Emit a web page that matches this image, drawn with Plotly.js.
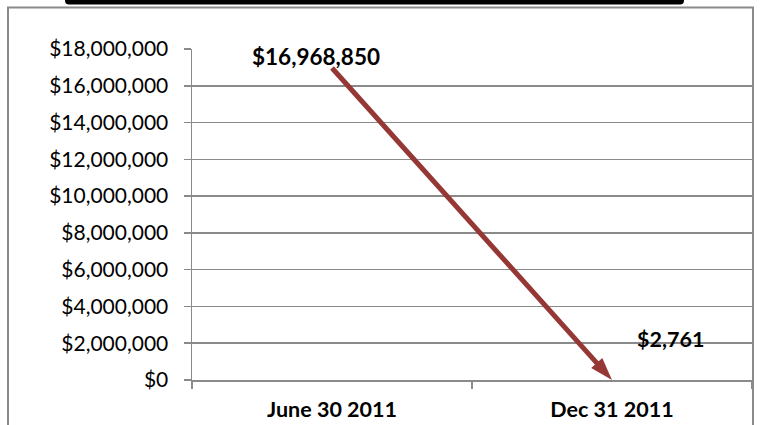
<!DOCTYPE html>
<html>
<head>
<meta charset="utf-8">
<script src="https://cdn.plot.ly/plotly-3.0.1.min.js"></script>
<style>
  html, body { margin: 0; padding: 0; background: #fff; }
  #chart { width: 760px; height: 425px; }
</style>
</head>
<body>
<div id="chart"></div>
<script>
// ---- data ----
const categories = ["June 30 2011", "Dec 31 2011"];
const values = [16968850, 2761];
const valueLabels = ["$16,968,850", "$2,761"];
const yTickVals = [0, 2000000, 4000000, 6000000, 8000000, 10000000, 12000000, 14000000, 16000000, 18000000];
const yTickText = ["$0", "$2,000,000", "$4,000,000", "$6,000,000", "$8,000,000", "$10,000,000", "$12,000,000", "$14,000,000", "$16,000,000", "$18,000,000"];

// ---- layout geometry (pixels) ----
const W = 760, H = 425;
const M = {l: 192, r: 8, t: 49, b: 45};
const PW = W - M.l - M.r, PH = H - M.t - M.b;
const px = X => (X - M.l) / PW;
const py = Y => (H - M.b - Y) / PH;

const FONT = "Lato, 'Open Sans', sans-serif";
const RED = "#953735";
const GRID = "#8a8a8a";

const trace = {
  type: "scatter",
  mode: "lines+markers",
  x: categories,
  y: values,
  line: {color: RED, width: 5},
  marker: {
    symbol: ["circle", "arrow"],
    size: [1, 24],
    opacity: [0, 1],
    color: RED,
    angleref: "previous",
    line: {width: 0}
  },
  cliponaxis: false,
  hoverinfo: "skip",
  showlegend: false
};

// bar path with rounded bottom corners
const bx0 = px(65), bx1 = px(684), by0 = py(-5), by1 = py(4.5);
const rx = 4 / PW, ry = 4 / PH;
const barPath = `M ${bx0},${by0} L ${bx0},${by1 + ry} Q ${bx0},${by1} ${bx0 + rx},${by1} L ${bx1 - rx},${by1} Q ${bx1},${by1} ${bx1},${by1 + ry} L ${bx1},${by0} Z`;

const layout = {
  width: W, height: H,
  margin: M,
  paper_bgcolor: "#ffffff",
  plot_bgcolor: "#ffffff",
  font: {family: FONT, color: "#000", size: 21},
  xaxis: {
    type: "category",
    range: [-0.5, 1.5],
    showgrid: false,
    zeroline: false,
    showline: true,
    linecolor: GRID,
    linewidth: 1.5,
    ticks: "outside",
    tickson: "boundaries",
    ticklen: 7,
    tickcolor: GRID,
    tickwidth: 1.5,
    tickfont: {family: FONT, size: 21.5, color: "#000", weight: "bold"},
    ticklabelstandoff: 10
  },
  yaxis: {
    range: [0, 18000000],
    tickvals: yTickVals,
    ticktext: yTickText,
    showgrid: true,
    gridcolor: GRID,
    gridwidth: 1.5,
    zeroline: false,
    showline: true,
    linecolor: GRID,
    linewidth: 1.5,
    ticks: "outside",
    ticklen: 7,
    tickcolor: GRID,
    tickwidth: 1.5,
    tickfont: {family: FONT, size: 21, color: "#000"},
    ticklabelstandoff: 11
  },
  annotations: [
    {x: categories[0], y: values[0], xref: "x", yref: "y", text: valueLabels[0], showarrow: false,
     xshift: -16, yshift: 11, font: {family: FONT, size: 22.5, color: "#000", weight: "bold"}},
    {x: categories[1], y: values[1], xref: "x", yref: "y", text: valueLabels[1], showarrow: false,
     xshift: 58, yshift: 41, font: {family: FONT, size: 21.5, color: "#000", weight: "bold"}}
  ],
  shapes: [
    {type: "rect", xref: "paper", yref: "paper", x0: px(8), x1: px(753), y0: py(460), y1: py(7.5),
     line: {color: GRID, width: 2}, fillcolor: "rgba(0,0,0,0)", layer: "above"},
    {type: "path", xref: "paper", yref: "paper", path: barPath, fillcolor: "#000", line: {width: 0}}
  ]
};

Plotly.newPlot("chart", [trace], layout, {staticPlot: true, displayModeBar: false});
</script>
</body>
</html>
